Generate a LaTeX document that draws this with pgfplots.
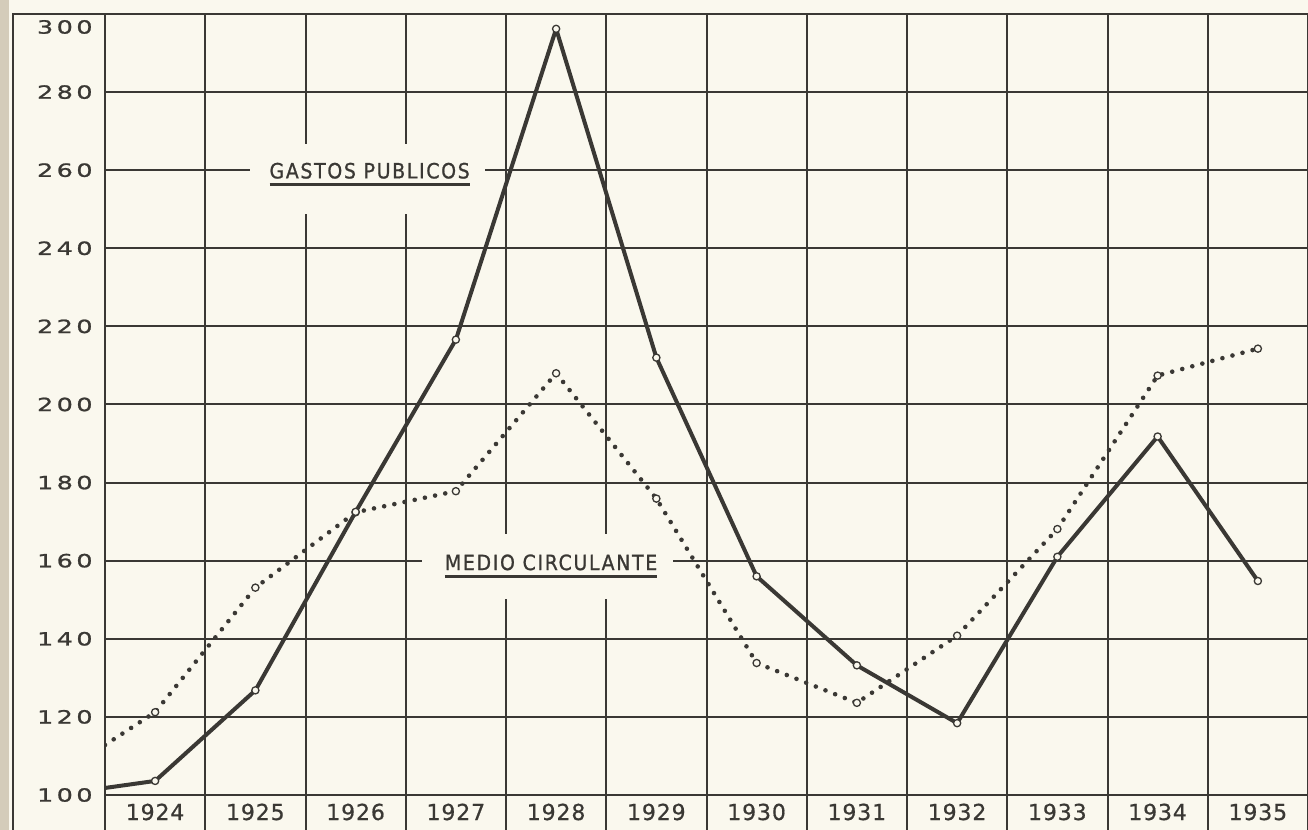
\documentclass[border=0pt]{standalone}
\usepackage{fontspec}
\setmainfont{DejaVu Sans}
\newfontfamily\ylabfont[FakeStretch=1.4,LetterSpace=19,FakeBold=1.2]{DejaVu Sans}
\newfontfamily\yearfont[FakeBold=0.6,LetterSpace=4]{DejaVu Sans}
\newfontfamily\capfont[FakeBold=1.0,FakeStretch=0.9,LetterSpace=8]{DejaVu Sans}
\usepackage{pgfplots}
\pgfplotsset{compat=1.18}
\usepackage{pgfplotstable}
\definecolor{paper}{RGB}{250,248,238}
\definecolor{ink}{RGB}{58,56,52}
\definecolor{edge}{RGB}{212,204,186}

\pgfplotstableread{
year val
1923.5 101.8
1924 103.6
1925 126.8
1926 172.5
1927 216.6
1928 296.2
1929 212.0
1930 156.0
1931 133.2
1932 118.4
1933 161.0
1934 191.8
1935 154.8
}\gastos

\pgfplotstableread{
year val
1923.5 112.8
1924 121.2
1925 153.1
1926 172.4
1927 177.8
1928 208.0
1929 175.9
1930 133.8
1931 123.6
1932 140.8
1933 168.1
1934 207.4
1935 214.3
}\medio

\newcommand\ulbox[1]{\setbox0\hbox{#1}\vtop{\copy0\kern2.2pt\hrule height 1.5pt width \wd0}}

\begin{document}
\begin{tikzpicture}
\useasboundingbox (-52.5pt,-17.5pt) rectangle (601.5pt,397.5pt);
\fill[paper] (-52.5pt,-17.5pt) rectangle (601.5pt,397.5pt);
\fill[edge] (-52.5pt,-17.5pt) rectangle (-48pt,397.5pt);
\draw[ink, line width=1pt] (-46pt,-17.5pt) -- (-46pt,390.5pt) -- (0pt,390.5pt);
\begin{axis}[
  at={(0pt,0pt)}, anchor=south west,
  scale only axis, width=601.5pt, height=390.5pt,
  xmin=1923.5, xmax=1935.5, ymin=100, ymax=300,
  /pgf/number format/assume math mode=true,
  xtick={1924,1925,1926,1927,1928,1929,1930,1931,1932,1933,1934,1935},
  xticklabels={1924,1925,1926,1927,1928,1929,1930,1931,1932,1933,1934,1935},
  minor xtick={1923.5,1924.5,1925.5,1926.5,1927.5,1928.5,1929.5,1930.5,1931.5,1932.5,1933.5,1934.5,1935.5},
  ytick={100,120,140,160,180,200,220,240,260,280},
  yticklabels={100,120,140,160,180,200,220,240,260,280},
  extra y ticks={300}, extra y tick labels={300},
  extra y tick style={tick label style={yshift=-6.5pt}},
  xminorgrids=true, ymajorgrids=true, xmajorgrids=false,
  grid style={ink, line width=1pt},
  minor grid style={ink, line width=1pt},
  axis line style={ink, line width=1pt},
  tick style={ink, line width=1pt},
  tick align=outside, major tick length=0pt, minor tick length=17.5pt,
  xtick pos=left, ytick pos=left,
  xticklabel style={font=\yearfont\fontsize{11}{13}\selectfont, anchor=center, inner sep=0pt, yshift=-8.5pt, text=ink},
  yticklabel style={font=\ylabfont\fontsize{9.1}{11}\selectfont, anchor=east, inner sep=0pt, xshift=-6pt, text=ink},
]
\node[fill=paper, minimum width=117.5pt, minimum height=35pt, inner sep=0pt] at (axis cs:1926.12,257.65) {};
\node[fill=paper, minimum width=125.5pt, minimum height=32.5pt, inner sep=0pt] at (axis cs:1927.91,158.55) {};
\node[anchor=base, inner sep=0pt, text=ink, font=\capfont\fontsize{10.5}{12}\selectfont] at (axis cs:1926.14,257.9) {\ulbox{GASTOS PUBLICOS}};
\node[anchor=base, inner sep=0pt, text=ink, font=\capfont\fontsize{10.5}{12}\selectfont] at (axis cs:1927.95,157.6) {\ulbox{MEDIO CIRCULANTE}};

\addplot[ink, line width=2.3pt, line cap=round, dash pattern=on 0pt off 5.2pt,
  mark=*, mark size=1.8pt, mark indices={2,3,4,5,6,7,8,9,10,11,12,13},
  mark options={solid, fill=paper, draw=ink, line width=0.65pt}] table[x=year,y=val] {\medio};
\addplot[ink, line width=2pt, line join=round,
  mark=*, mark size=1.8pt, mark indices={2,3,4,5,6,7,8,9,10,11,12,13},
  mark options={solid, fill=paper, draw=ink, line width=0.65pt}] table[x=year,y=val] {\gastos};
\end{axis}
\end{tikzpicture}
\end{document}
